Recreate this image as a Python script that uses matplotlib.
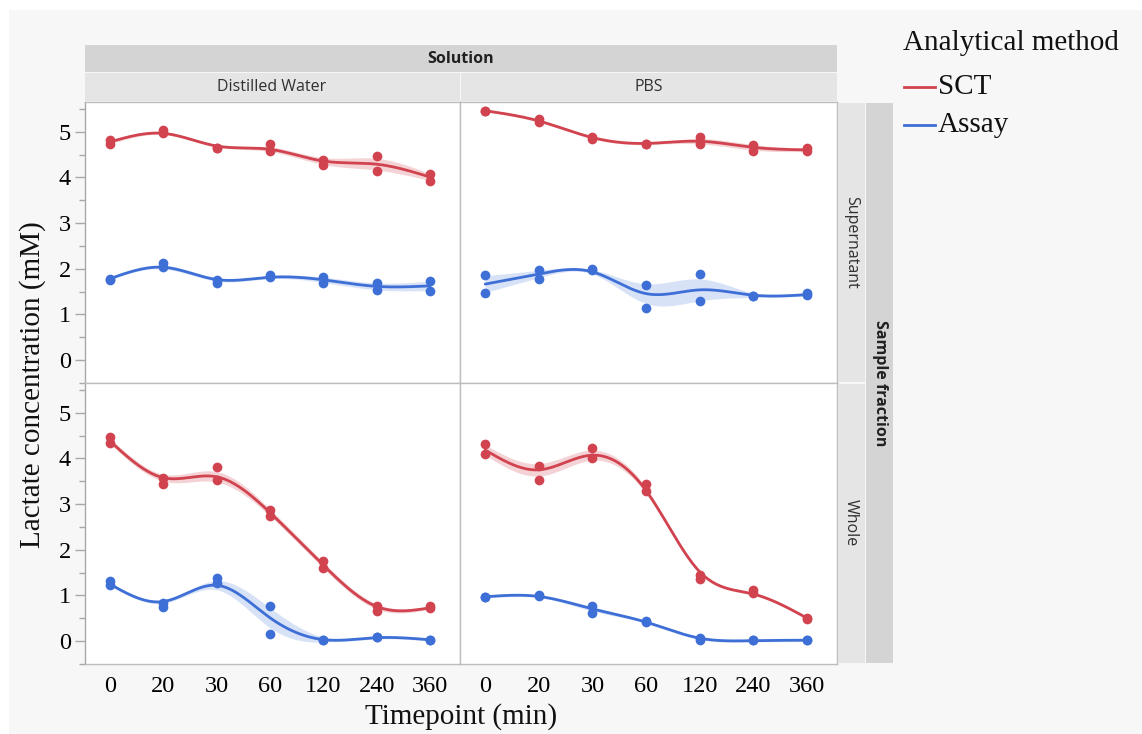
import numpy as np
import matplotlib
matplotlib.use("Agg")
import matplotlib.pyplot as plt
from matplotlib.patches import Rectangle
from matplotlib.lines import Line2D

# ---- data: lactate concentration (mM), two replicates per timepoint ----
timepoints = ["0", "20", "30", "60", "120", "240", "360"]
solutions = ["Distilled Water", "PBS"]
fractions = ["Supernatant", "Whole"]
methods = ["SCT", "Assay"]

dw_sup_sct = [[4.81, 4.72], [5.03, 4.97], [4.65, 4.64], [4.72, 4.58], [4.38, 4.27], [4.47, 4.15], [4.07, 3.93]]
dw_sup_assay = [[1.78, 1.76], [2.12, 2.03], [1.76, 1.68], [1.86, 1.81], [1.83, 1.69], [1.68, 1.53], [1.74, 1.52]]
pbs_sup_sct = [[5.46, 5.45], [5.28, 5.22], [4.89, 4.83], [4.74, 4.73], [4.88, 4.74], [4.71, 4.58], [4.64, 4.57]]
pbs_sup_assay = [[1.86, 1.47], [1.97, 1.77], [1.99, 1.98], [1.64, 1.14], [1.88, 1.29], [1.40, 1.40], [1.46, 1.42]]
dw_whole_sct = [[4.47, 4.33], [3.57, 3.44], [3.81, 3.52], [2.86, 2.73], [1.75, 1.60], [0.78, 0.66], [0.78, 0.72]]
dw_whole_assay = [[1.31, 1.23], [0.83, 0.74], [1.38, 1.27], [0.78, 0.15], [0.02, 0.02], [0.10, 0.09], [0.03, 0.02]]
pbs_whole_sct = [[4.32, 4.09], [3.83, 3.53], [4.23, 4.00], [3.43, 3.29], [1.44, 1.37], [1.12, 1.06], [0.50, 0.49]]
pbs_whole_assay = [[0.97, 0.96], [1.00, 0.99], [0.76, 0.62], [0.44, 0.43], [0.06, 0.03], [0.02, 0.02], [0.02, 0.02]]

panels = {
    ("Supernatant", "Distilled Water"): (dw_sup_sct, dw_sup_assay),
    ("Supernatant", "PBS"): (pbs_sup_sct, pbs_sup_assay),
    ("Whole", "Distilled Water"): (dw_whole_sct, dw_whole_assay),
    ("Whole", "PBS"): (pbs_whole_sct, pbs_whole_assay),
}

colors = {"SCT": "#d1434f", "Assay": "#3d6fd6"}
band_colors = {"SCT": "#eba9ae", "Assay": "#b3c6f0"}

W, H = 1142, 734
fig = plt.figure(figsize=(W / 100, H / 100), dpi=100)
fig.patch.set_facecolor("white")

SERIF = "Liberation Serif"
SANS = "Open Sans"


def fx(px):
    return px / W


def fy(py):
    return 1 - py / H


def rect(x0, y0, x1, y1, color, z=0):
    fig.patches.append(Rectangle((fx(x0), fy(y1)), fx(x1) - fx(x0), fy(y0) - fy(y1),
                                 transform=fig.transFigure, facecolor=color,
                                 edgecolor="none", zorder=z))


# light grey canvas
rect(9, 10, W, H, "#f7f7f7", z=-5)


def smoothing_spline(x, y, w, lam):
    n = len(x)
    h = np.diff(x)
    Q = np.zeros((n, n - 2))
    R = np.zeros((n - 2, n - 2))
    for j in range(1, n - 1):
        Q[j - 1, j - 1] = 1 / h[j - 1]
        Q[j, j - 1] = -1 / h[j - 1] - 1 / h[j]
        Q[j + 1, j - 1] = 1 / h[j]
        R[j - 1, j - 1] = (h[j - 1] + h[j]) / 3
        if j < n - 2:
            R[j - 1, j] = R[j, j - 1] = h[j] / 6
    Wm = np.diag(w)
    A = Wm + lam * Q @ np.linalg.solve(R, Q.T)
    g = np.linalg.solve(A, Wm @ y)
    gam = np.linalg.solve(R, Q.T @ g)
    return g, np.concatenate([[0.0], gam, [0.0]])


def eval_spline(x, g, gam, xs):
    idx = np.clip(np.searchsorted(x, xs) - 1, 0, len(x) - 2)
    h = x[idx + 1] - x[idx]
    a = (x[idx + 1] - xs) / h
    b = (xs - x[idx]) / h
    return a * g[idx] + b * g[idx + 1] + ((a ** 3 - a) * gam[idx] + (b ** 3 - b) * gam[idx + 1]) * h ** 2 / 6


# panel geometry in pixels
col_x = [(85, 460), (460, 837)]
row_y = [(102, 383), (383, 664)]
YLIM = (-0.48, 5.65)
XLIM = (-0.47, 6.56)

xi = np.arange(len(timepoints), dtype=float)
xs = np.linspace(0, len(timepoints) - 1, 400)

for r, frac in enumerate(fractions):
    for c, sol in enumerate(solutions):
        x0, x1 = col_x[c]
        y0, y1 = row_y[r]
        ax = fig.add_axes([fx(x0), fy(y1), fx(x1) - fx(x0), fy(y0) - fy(y1)])
        ax.set_facecolor("white")
        for side, sp in ax.spines.items():
            sp.set_color("#bdbdbd")
            sp.set_linewidth(1.0)
        if c == 0:
            ax.spines["left"].set_color("#a8a8a8")
        ax.set_xlim(*XLIM)
        ax.set_ylim(*YLIM)
        ax.set_xticks(xi)
        ax.set_yticks(np.arange(0, 6, 1))
        ax.set_yticks(np.arange(-0.5, 5.6, 0.5), minor=True)
        ax.tick_params(axis="x", length=0, labelsize=17.5, pad=9)
        ax.tick_params(axis="y", which="major", length=7, width=1, color="#a8a8a8",
                       labelsize=17.5, pad=3)
        ax.tick_params(axis="y", which="minor", length=4, width=1, color="#a8a8a8")
        if r == 1:
            ax.set_xticklabels(timepoints, fontfamily=SERIF)
        else:
            ax.set_xticklabels([])
        if c == 0:
            ax.set_yticklabels([str(v) for v in range(6)], fontfamily=SERIF)
        else:
            ax.tick_params(axis="y", which="both", length=0, labelleft=False)

        for m, vals in zip(methods, panels[(frac, sol)]):
            arr = np.array(vals, dtype=float)
            means = arr.mean(axis=1)
            se = arr.std(axis=1, ddof=1) / np.sqrt(arr.shape[1])
            g, gam = smoothing_spline(xi, means, np.full(len(xi), arr.shape[1]), 0.03)
            curve = eval_spline(xi, g, gam, xs)
            gs, gams = smoothing_spline(xi, se, np.ones(len(xi)), 0.05)
            half = np.clip(eval_spline(xi, gs, gams, xs), 0.03, None) * 0.95
            ax.fill_between(xs, curve - half, curve + half, color=band_colors[m],
                            alpha=0.5, linewidth=0, zorder=2)
            ax.plot(xs, curve, color=colors[m], lw=2.0, zorder=3, solid_capstyle="round")
            px = np.repeat(xi, arr.shape[1])
            ax.plot(px, arr.ravel(), "o", color=colors[m], ms=7, mec="none", zorder=4)

# top strips
rect(85, 45, 837, 72, "#d4d4d4")
rect(85, 73, 459.5, 101, "#e5e5e5")
rect(460.5, 73, 837, 101, "#e5e5e5")
fig.text(fx(461), fy(59), "Solution", ha="center", va="center", fontsize=11.5,
         fontweight="bold", family=SANS, color="#202020")
fig.text(fx(272), fy(87), "Distilled Water", ha="center", va="center", fontsize=11.5,
         family=SANS, color="#303030")
fig.text(fx(649), fy(87), "PBS", ha="center", va="center", fontsize=11.5,
         family=SANS, color="#303030")

# right strips
rect(838, 103, 865, 382, "#e5e5e5")
rect(838, 384, 865, 663, "#e5e5e5")
rect(866, 103, 893, 663, "#d4d4d4")
fig.text(fx(851), fy(242), "Supernatant", ha="center", va="center", rotation=-90,
         fontsize=11.5, family=SANS, color="#303030")
fig.text(fx(851), fy(523), "Whole", ha="center", va="center", rotation=-90,
         fontsize=11.5, family=SANS, color="#303030")
fig.text(fx(880), fy(383), "Sample fraction", ha="center", va="center", rotation=-90,
         fontsize=11.5, fontweight="bold", family=SANS, color="#202020")

# axis titles
fig.text(fx(33), fy(385), "Lactate concentration (mM)", ha="center", va="center",
         rotation=90, fontsize=21, family=SERIF, color="#111111")
fig.text(fx(461), fy(717), "Timepoint (min)", ha="center", va="center",
         fontsize=21, family=SERIF, color="#111111")

# legend
fig.text(fx(903), fy(43), "Analytical method", ha="left", va="center",
         fontsize=21, family=SERIF, color="#111111")
for i, m in enumerate(methods):
    yy = 87 + 38 * i
    fig.lines.append(Line2D([fx(904), fx(935)], [fy(yy), fy(yy)], color=colors[m], lw=2,
                            transform=fig.transFigure))
    fig.text(fx(938), fy(yy), m, ha="left", va="center", fontsize=21,
             family=SERIF, color="#111111")

fig.savefig("out.png", dpi=100, facecolor=fig.get_facecolor())
